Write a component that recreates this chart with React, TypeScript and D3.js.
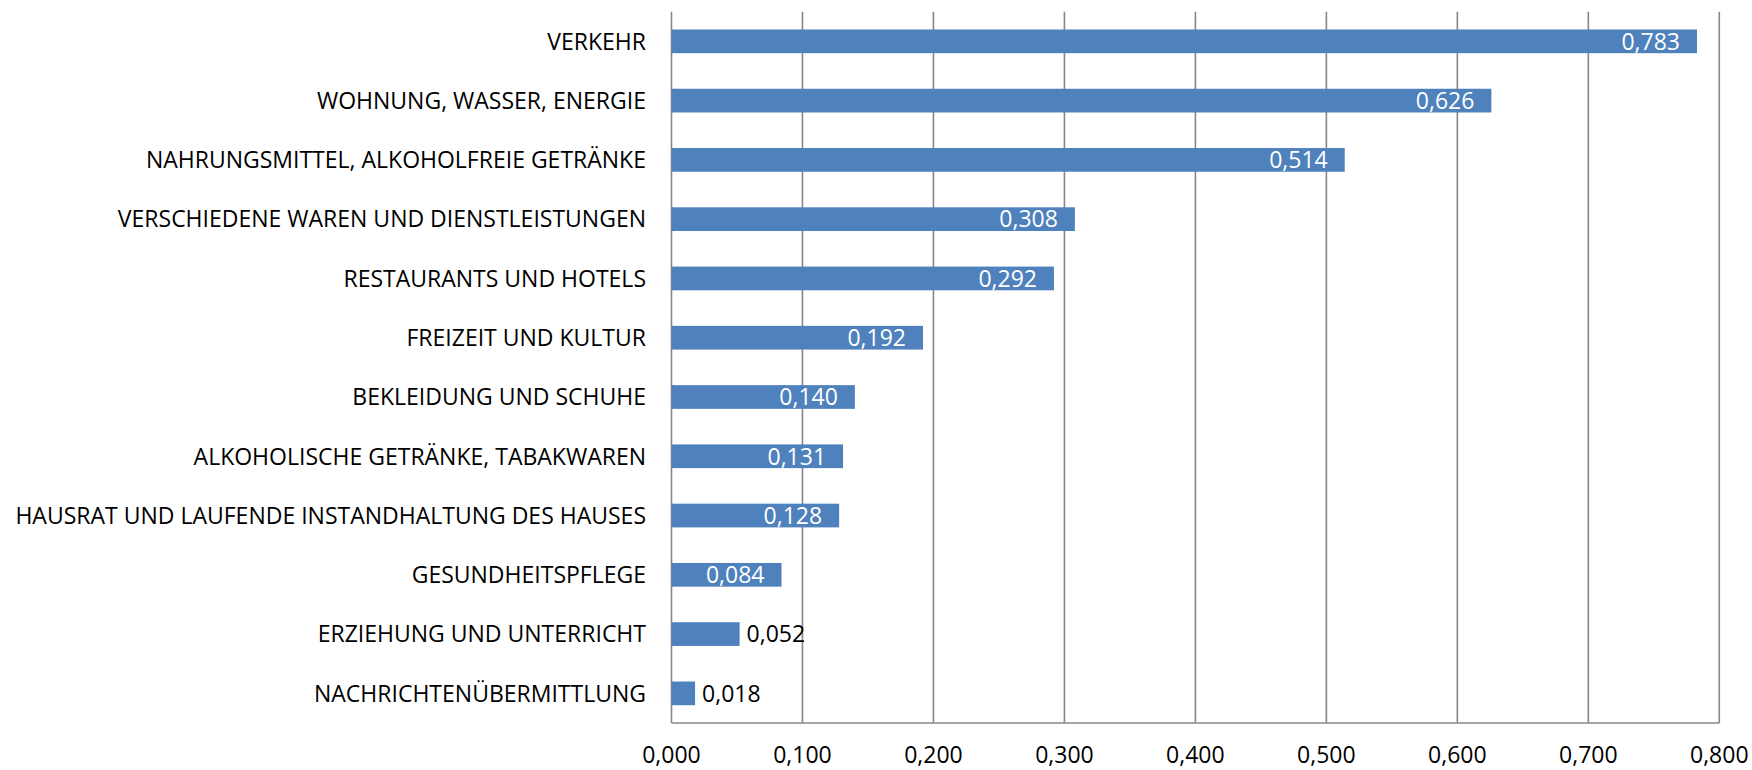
import React from "react";
import * as d3 from "d3";

const categories: string[] = [
  "VERKEHR",
  "WOHNUNG, WASSER, ENERGIE",
  "NAHRUNGSMITTEL, ALKOHOLFREIE GETRÄNKE",
  "VERSCHIEDENE WAREN UND DIENSTLEISTUNGEN",
  "RESTAURANTS UND HOTELS",
  "FREIZEIT UND KULTUR",
  "BEKLEIDUNG UND SCHUHE",
  "ALKOHOLISCHE GETRÄNKE, TABAKWAREN",
  "HAUSRAT UND LAUFENDE INSTANDHALTUNG DES HAUSES",
  "GESUNDHEITSPFLEGE",
  "ERZIEHUNG UND UNTERRICHT",
  "NACHRICHTENÜBERMITTLUNG",
];

const values: number[] = [0.783, 0.626, 0.514, 0.308, 0.292, 0.192, 0.14, 0.131, 0.128, 0.084, 0.052, 0.018];

const tickValues: number[] = [0, 0.1, 0.2, 0.3, 0.4, 0.5, 0.6, 0.7, 0.8];

const W = 1752;
const H = 770;
const FONT = "'Open Sans', sans-serif";
const FS = 23;
const BAR = "#4F81BD";
const GRID = "#878787";

const fmt = (v: number) => d3.format(".3f")(v).replace(".", ",");

export default function App() {
  const x = d3.scaleLinear().domain([0, 0.8]).range([671.5, 1719.3]);
  const y = d3
    .scaleBand<string>()
    .domain(categories)
    .range([11.7, 723])
    .paddingInner(0.6)
    .paddingOuter(0.3);
  const [y0, y1] = y.range();
  const labelW = 58;
  const insidePad = 17;
  const outsidePad = 7;

  return (
    <svg
      width={W}
      height={H}
      style={{ position: "absolute", left: 0, top: 0, background: "#fff" }}
      fontFamily={FONT}
      fontSize={FS}
    >
      <rect x={0} y={0} width={W} height={H} fill="#fff" />
      {tickValues.map((t) => (
        <line key={"g" + t} x1={x(t)} x2={x(t)} y1={y0} y2={y1} stroke={GRID} strokeWidth={1.6} />
      ))}
      <line x1={x(0)} x2={x(0.8)} y1={y1} y2={y1} stroke={GRID} strokeWidth={1.6} />
      {categories.map((c, i) => {
        const v = values[i];
        const by = y(c) as number;
        const bw = x(v) - x(0);
        const cy = by + y.bandwidth() / 2;
        const inside = bw >= labelW + 2 * insidePad;
        return (
          <g key={c}>
            <rect x={x(0)} y={by} width={bw} height={y.bandwidth()} fill={BAR} />
            <text x={646} y={cy} dy="0.36em" textAnchor="end" fill="#000">
              {c}
            </text>
            {inside ? (
              <text x={x(v) - insidePad} y={cy} dy="0.36em" textAnchor="end" fill="#fff">
                {fmt(v)}
              </text>
            ) : (
              <text x={x(v) + outsidePad} y={cy} dy="0.36em" textAnchor="start" fill="#000">
                {fmt(v)}
              </text>
            )}
          </g>
        );
      })}
      {tickValues.map((t) => (
        <text key={"t" + t} x={x(t)} y={763} textAnchor="middle" fill="#000">
          {fmt(t)}
        </text>
      ))}
    </svg>
  );
}
